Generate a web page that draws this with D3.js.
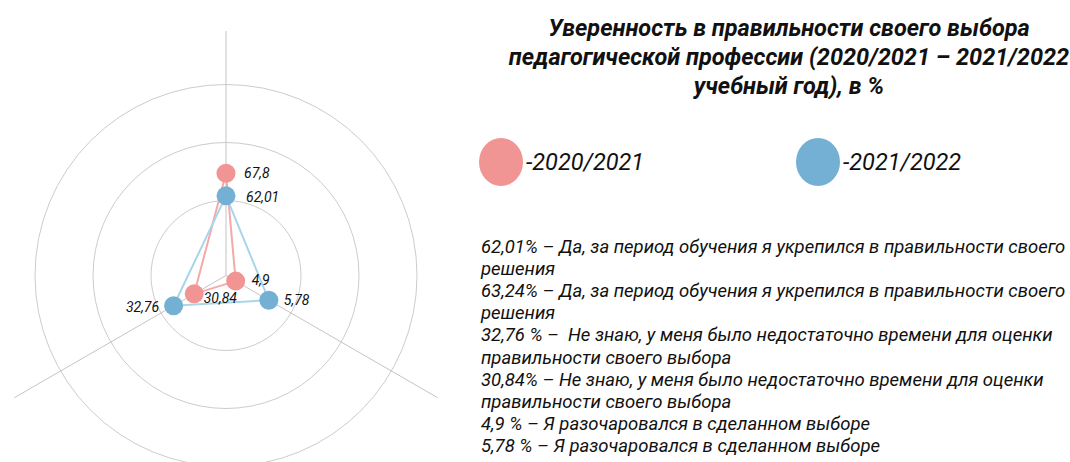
<!DOCTYPE html>
<html>
<head>
<meta charset="utf-8">
<script src="https://cdn.jsdelivr.net/npm/d3@7"></script>
<style>
  body { margin: 0; background: #fff; }
  svg { display: block; font-family: Roboto, "Noto Sans", sans-serif; }
  text { white-space: pre; }
</style>
</head>
<body>
<div id="chart"></div>
<script>
// axes of the radar (3 answers), clockwise from the top
var answers = ["Да, укрепился", "Разочаровался", "Не знаю"];

// radial position of each point, in ring units
var pos2021 = [1.47, -0.10, 0.34];
var pos2122 = [1.08, 0.56, 0.75];

// data labels as printed on the chart
var labels2021 = ["67,8", "4,9", "30,84"];
var labels2122 = ["62,01", "5,78", "32,76"];

var ringTicks = [1, 2, 3];
var axisMax = 3.92;

var seriesNames = ["-2020/2021", "-2021/2022"];

var titleLines = [
  "Уверенность в правильности своего выбора",
  "педагогической профессии (2020/2021 – 2021/2022",
  "учебный год), в %"
];

var notes = [
  "62,01% – Да, за период обучения я укрепился в правильности своего",
  "решения",
  "63,24% – Да, за период обучения я укрепился в правильности своего",
  "решения",
  "32,76 % –  Не знаю, у меня было недостаточно времени для оценки",
  "правильности своего выбора",
  "30,84% – Не знаю, у меня было недостаточно времени для оценки",
  "правильности своего выбора",
  "4,9 % – Я разочаровался в сделанном выборе",
  "5,78 % – Я разочаровался в сделанном выборе"
];

var colors = ["#f19494", "#74b0d4"];
var lineColors = ["#f5a9a9", "#a9d4ea"];

var svgWidth = 1070;
var svgHeight = 462;

var svg = d3.select("#chart")
    .append("svg")
    .attr("width", svgWidth)
    .attr("height", svgHeight);

// radar
var cx = 226, cy = 275.5;
var radar = svg.append("g")
    .attr("transform", `translate(${cx}, ${cy})`);

var rScale = d3.scaleLinear()
    .domain([0, 3])
    .range([17, 191]);

var angle = d3.scalePoint()
    .domain(d3.range(answers.length))
    .range([0, 2 * Math.PI * (answers.length - 1) / answers.length]);

function pt(i, v) {
  var a = angle(i) - Math.PI / 2;
  var r = rScale(v);
  return [r * Math.cos(a), r * Math.sin(a)];
}

radar.selectAll(".ring")
    .data(ringTicks)
    .enter()
    .append("circle")
    .attr("class", "ring")
    .attr("r", d => rScale(d))
    .attr("fill", "none")
    .attr("stroke", "#cccccc")
    .attr("stroke-width", 1);

radar.selectAll(".axis")
    .data(answers)
    .enter()
    .append("line")
    .attr("class", "axis")
    .attr("x1", 0)
    .attr("y1", 0)
    .attr("x2", (d, i) => pt(i, axisMax)[0])
    .attr("y2", (d, i) => pt(i, axisMax)[1])
    .attr("stroke", "#c4c4c4")
    .attr("stroke-width", 1);

var series = [
  { name: seriesNames[0], pos: pos2021, labels: labels2021, color: colors[0], line: lineColors[0] },
  { name: seriesNames[1], pos: pos2122, labels: labels2122, color: colors[1], line: lineColors[1] }
];

var line = d3.line().curve(d3.curveLinearClosed);

radar.selectAll(".shape")
    .data(series)
    .enter()
    .append("path")
    .attr("class", "shape")
    .attr("d", s => line(s.pos.map((v, i) => pt(i, v))))
    .attr("fill", "none")
    .attr("stroke", s => s.line)
    .attr("stroke-width", 2);

series.forEach(function(s) {
  radar.selectAll(null)
      .data(s.pos)
      .enter()
      .append("circle")
      .attr("cx", (v, i) => pt(i, v)[0])
      .attr("cy", (v, i) => pt(i, v)[1])
      .attr("r", 9.5)
      .attr("fill", s.color);
});

// label placement next to each dot: [dx, dy, anchor]
var place = [
  [[18, 0, "start"], [16, -1, "start"], [9.5, 4, "start"]],
  [[20, 1.5, "start"], [15, 0, "start"], [-14.5, 1, "end"]]
];

series.forEach(function(s, k) {
  radar.selectAll(null)
      .data(s.pos)
      .enter()
      .append("text")
      .attr("x", (v, i) => pt(i, v)[0] + place[k][i][0])
      .attr("y", (v, i) => pt(i, v)[1] + place[k][i][1])
      .attr("dy", "0.35em")
      .attr("text-anchor", (v, i) => place[k][i][2])
      .attr("font-size", "14px")
      .attr("font-style", "italic")
      .attr("fill", "#111")
      .text((v, i) => s.labels[i]);
});

// title
svg.append("g")
    .selectAll("text")
    .data(titleLines)
    .enter()
    .append("text")
    .attr("x", 789)
    .attr("y", (d, i) => 36 + i * 29)
    .attr("text-anchor", "middle")
    .attr("font-size", "23.5px")
    .attr("font-weight", "bold")
    .attr("font-style", "italic")
    .attr("fill", "#111")
    .text(d => d);

// legend
var legendX = d3.scalePoint()
    .domain(seriesNames)
    .range([501, 818]);

var legend = svg.selectAll(".legend")
    .data(series)
    .enter()
    .append("g")
    .attr("class", "legend")
    .attr("transform", s => `translate(${legendX(s.name)}, 162)`);

legend.append("ellipse")
    .attr("rx", 22)
    .attr("ry", 24)
    .attr("fill", s => s.color);

legend.append("text")
    .attr("x", 25)
    .attr("dy", "0.36em")
    .attr("font-size", "23.5px")
    .attr("font-style", "italic")
    .attr("fill", "#111")
    .text(s => s.name);

// notes
svg.append("g")
    .selectAll("text")
    .data(notes)
    .enter()
    .append("text")
    .attr("x", 481)
    .attr("y", (d, i) => 253 + i * 22.1)
    .attr("font-size", "18.5px")
    .attr("font-style", "italic")
    .attr("fill", "#111")
    .text(d => d);
</script>
</body>
</html>
